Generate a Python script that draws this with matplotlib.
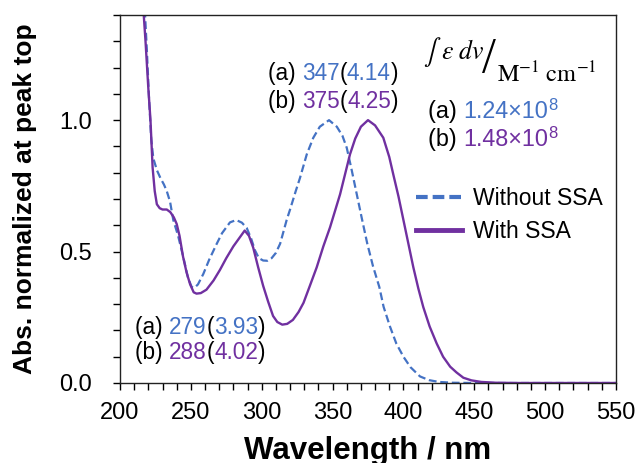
import matplotlib
matplotlib.use("Agg")
import matplotlib.pyplot as plt
from matplotlib.lines import Line2D
from matplotlib.ticker import MultipleLocator, FixedLocator

plt.rcParams["font.family"] = ["Liberation Sans", "DejaVu Sans"]

BLUE = "#4472C4"
PURPLE = "#7030A0"

# Without SSA (a)
wl_a = [217.5, 219, 220.5, 222, 223.5, 226, 228.5, 231, 233, 235.3, 237.6, 241, 244.7,
        248, 250.6, 252.5, 255, 258.8, 263, 268.2, 272, 277.6, 282, 286, 289.4, 292.5,
        295.3, 298, 301, 304, 307, 310, 313, 317.6, 320, 324, 327, 331.8, 336.4, 341,
        347.5, 353, 357, 360, 363.5, 367, 370.5, 374.5, 378.5, 383, 386, 390.5, 395,
        400, 405, 411.7, 418, 425, 435, 450, 550]
abs_a = [1.42, 1.26, 1.08, 0.93, 0.855, 0.81, 0.78, 0.755, 0.73, 0.69, 0.62, 0.56, 0.478,
         0.40, 0.365, 0.362, 0.375, 0.415, 0.47, 0.529, 0.57, 0.611, 0.62, 0.61, 0.59, 0.55,
         0.504, 0.475, 0.466, 0.465, 0.475, 0.495, 0.53, 0.62, 0.66, 0.73, 0.78, 0.87, 0.933,
         0.975, 1.0, 0.975, 0.94, 0.895, 0.81, 0.72, 0.63, 0.53, 0.445, 0.365, 0.29, 0.215,
         0.15, 0.10, 0.06, 0.025, 0.011, 0.004, 0.001, 0.0, 0.0]

# With SSA (b)
wl_b = [216.5, 218, 220, 221.5, 223, 224.5, 226, 228, 230, 233, 235.5, 238, 240, 242,
        244.5, 247, 249.5, 252, 254, 257, 261, 266, 270.5, 275, 280, 284, 288, 291, 294,
        297.5, 301, 304.5, 308, 311, 314.5, 318, 322, 326, 329.5, 334, 338.8, 343.5, 348.2,
        355.3, 362.3, 366, 370, 375, 380, 385.8, 390, 393, 396.5, 400, 403.5, 407, 410.5,
        414, 418.5, 423.5, 428, 433, 437.5, 442.3, 448, 455, 465, 480, 550]
abs_b = [1.42, 1.30, 1.12, 1.0, 0.82, 0.73, 0.68, 0.665, 0.66, 0.66, 0.65, 0.63, 0.605,
         0.56, 0.48, 0.42, 0.375, 0.345, 0.34, 0.342, 0.355, 0.39, 0.43, 0.475, 0.52, 0.55,
         0.58, 0.56, 0.515, 0.44, 0.37, 0.31, 0.255, 0.232, 0.222, 0.225, 0.24, 0.27, 0.305,
         0.37, 0.44, 0.52, 0.592, 0.718, 0.87, 0.93, 0.975, 1.0, 0.98, 0.933, 0.86, 0.79,
         0.71, 0.62, 0.53, 0.44, 0.36, 0.289, 0.215, 0.15, 0.10, 0.062, 0.04, 0.02, 0.01,
         0.004, 0.001, 0.0, 0.0]

peak_hi = [("(a) ", "347", "4.14", BLUE), ("(b) ", "375", "4.25", PURPLE)]
peak_lo = [("(a) ", "279", "3.93", BLUE), ("(b) ", "288", "4.02", PURPLE)]
integrals = [("(a) ", "1.24×10", "8", BLUE), ("(b) ", "1.48×10", "8", PURPLE)]


def rainbow(ax, x, y, parts, size):
    t = ax.text(x, y, parts[0][0], color=parts[0][1], fontsize=size, va="center")
    for s, c in parts[1:]:
        t = ax.annotate(s, xy=(1, 0), xycoords=t, va="bottom", color=c, fontsize=size)
    return t


fig = plt.figure(figsize=(6.37, 4.63), dpi=100)
ax = fig.add_axes([0.1884, 0.1728, 0.7786, 0.7948])

ax.plot(wl_a, abs_a, color=BLUE, lw=1.6, ls=(0, (3.5, 1.7)))
ax.plot(wl_b, abs_b, color=PURPLE, lw=1.7)

ax.set_xlim(200, 550)
ax.set_ylim(0, 1.4)
ax.xaxis.set_major_locator(MultipleLocator(50))
ax.xaxis.set_minor_locator(MultipleLocator(10))
ax.yaxis.set_major_locator(FixedLocator([0, 0.5, 1.0]))
ax.yaxis.set_minor_locator(MultipleLocator(0.1))
ax.yaxis.set_major_formatter(lambda v, p: f"{v:.1f}")
ax.tick_params(which="both", direction="out", length=5, width=1, color="black")
ax.tick_params(axis="x", labelsize=17, pad=9)
ax.tick_params(axis="y", labelsize=17, pad=15)
for sp in ax.spines.values():
    sp.set_linewidth(1)
    sp.set_color("#222222")

ax.set_xlabel("Wavelength / nm", fontsize=22.5, fontweight="bold")
ax.set_ylabel("Abs. normalized at peak top", fontsize=19, fontweight="bold")
ax.xaxis.set_label_coords(0.5, -0.145)
ax.yaxis.set_label_coords(-0.167, 0.5)

# peak annotations
for (lab, wl, eps, c), y in zip(peak_hi, [1.178, 1.072]):
    rainbow(ax, 304.4, y, [(lab, "black"), (wl, c), ("(", "black"), (eps, c), (")", "black")], 16.3)
for (lab, wl, eps, c), y in zip(peak_lo, [0.212, 0.117]):
    rainbow(ax, 210.6, y, [(lab, "black"), (wl, c), ("(", "black"), (eps, c), (")", "black")], 16.3)

# integrated intensity
ax.text(413.5, 1.258, r"$\int\ \varepsilon\ dv$", fontsize=18.5, math_fontfamily="stix", va="center")
ax.text(460.5, 1.23, "/", fontsize=36, family=["Liberation Serif", "DejaVu Serif"],
        va="center", ha="center")
ax.text(466, 1.172, r"$\mathrm{M^{-1}\ cm^{-1}}$", fontsize=17.5, math_fontfamily="stix",
        va="center")
for (lab, val, sup, c), y in zip(integrals, [1.034, 0.928]):
    t = rainbow(ax, 417.3, y, [(lab, "black"), (val, c)], 16.8)
    ax.annotate(sup, xy=(1, 0.42), xycoords=t, va="bottom", color=c, fontsize=12)

handles = [Line2D([], [], color=BLUE, lw=3, ls=(0, (2.8, 1.2))),
           Line2D([], [], color=PURPLE, lw=3.5)]
ax.legend(handles, ["Without SSA", "With SSA"], loc="upper left", bbox_to_anchor=(0.597, 0.532),
          frameon=False, fontsize=16.5, handlelength=2.0, handletextpad=0.5,
          labelspacing=0.42, borderpad=0, borderaxespad=0)

fig.savefig("out.png", dpi=100)
